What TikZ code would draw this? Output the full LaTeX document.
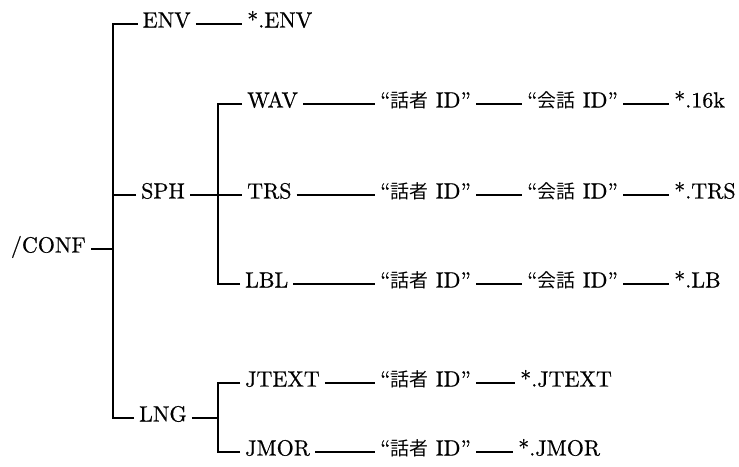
\documentclass[tikz,border=0pt]{standalone}
\usepackage{fontspec}
\setmainfont{lmroman10-regular}[Extension=.otf,FakeBold=0.6]
\newfontfamily\jp{Noto Sans CJK JP}[Scale=0.86]
\begin{document}
\begin{tikzpicture}[x=1pt,y=-1pt,
  lbl/.style={anchor=west,inner xsep=5pt,inner ysep=0pt,text height=0.7em,text depth=0pt,font=\fontsize{22}{26}\selectfont},
  conn/.style={line width=1.1pt,black}]
\useasboundingbox (0,0) rectangle (739,466);
% nodes
\node[lbl,anchor=east] (conf) at (91,249) {/CONF};
\node[lbl] (env) at (137.5,24) {ENV};
\node[lbl] (envf) at (242,24) {*.ENV};
\node[lbl] (sph) at (136,195) {SPH};
\node[lbl] (lng) at (134,418) {LNG};
\node[lbl] (wav) at (242,104) {WAV};
\node[lbl] (trs) at (242,195) {TRS};
\node[lbl] (lblx) at (240,284) {LBL};
\node[lbl] (jtext) at (240,383) {JTEXT};
\node[lbl] (jmor) at (240,452) {JMOR};
\node[lbl] (wavs) at (375,104) {“{\jp 話者} ID”};
\node[lbl] (trss) at (375,195) {“{\jp 話者} ID”};
\node[lbl] (lbls) at (375,284) {“{\jp 話者} ID”};
\node[lbl] (jtexts) at (375,383) {“{\jp 話者} ID”};
\node[lbl] (jmors) at (375,452) {“{\jp 話者} ID”};
\node[lbl] (wavk) at (522,104) {“{\jp 会話} ID”};
\node[lbl] (trsk) at (522,195) {“{\jp 会話} ID”};
\node[lbl] (lblk) at (522,284) {“{\jp 会話} ID”};
\node[lbl] (wavf) at (669,104) {*.16k};
\node[lbl] (trsf) at (669,195) {*.TRS};
\node[lbl] (lblf) at (669,284) {*.LB};
\node[lbl] (jtextf) at (515,383) {*.JTEXT};
\node[lbl] (jmorf) at (513,452) {*.JMOR};
% junctions
\coordinate (b1) at (113,249);
\coordinate (b2) at (218,195);
\coordinate (b3) at (218,418);
% connectors
\draw[conn] (conf.east) -- (b1);
\draw[conn] (env.west) -| (b1);
\draw[conn] (lng.west) -| (b1);
\draw[conn] (sph.west) -- (sph.west -| b1);
\draw[conn] (env) -- (envf);
\draw[conn] (sph) -- (trs);
\draw[conn] (wav.west) -| (b2);
\draw[conn] (lblx.west) -| (b2);
\draw[conn] (lng) -- (b3);
\draw[conn] (jtext.west) -| (b3);
\draw[conn] (jmor.west) -| (b3);
\draw[conn] (wav) -- (wavs);
\draw[conn] (trs) -- (trss);
\draw[conn] (lblx) -- (lbls);
\draw[conn] (jtext) -- (jtexts);
\draw[conn] (jmor) -- (jmors);
\draw[conn] (wavs) -- (wavk);
\draw[conn] (trss) -- (trsk);
\draw[conn] (lbls) -- (lblk);
\draw[conn] (wavk) -- (wavf);
\draw[conn] (trsk) -- (trsf);
\draw[conn] (lblk) -- (lblf);
\draw[conn] (jtexts) -- (jtextf);
\draw[conn] (jmors) -- (jmorf);
\end{tikzpicture}
\end{document}
